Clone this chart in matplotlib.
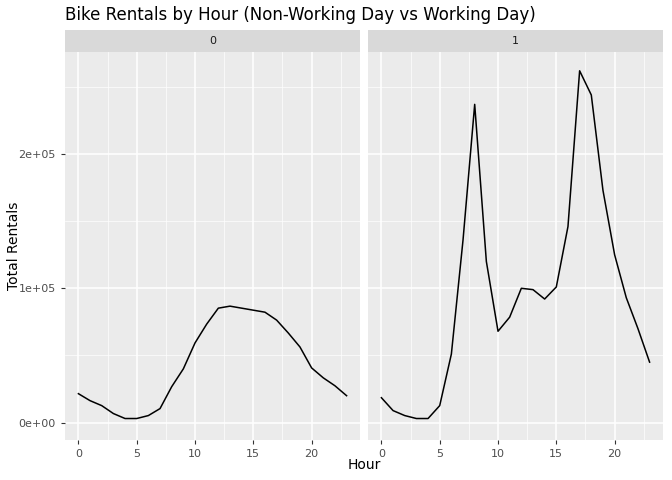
import matplotlib.pyplot as plt
import numpy as np

hours = list(range(24))
rentals_0 = [21500, 16300, 12600, 6700, 3000, 3000, 5200, 10400, 26700, 40000, 59300, 73300,
             85200, 86700, 85200, 83700, 82200, 76300, 66700, 56300, 40700, 33300, 27400, 20000]
rentals_1 = [18500, 8900, 5200, 3000, 3000, 12600, 51000, 136000, 237000, 120000, 68000, 78500,
             100000, 99000, 92000, 101000, 146000, 262000, 244000, 173000, 125000, 93000, 70000, 45000]
panels = [("0", rentals_0), ("1", rentals_1)]

fig = plt.figure(figsize=(6.72, 4.8), dpi=100)
W, H = 672, 480
left0, right0, left1, right1 = 65, 360, 368, 663
top, bottom, strip_top = 52, 440, 30

ymin, ymax = -13000, 276000
axes = []
for i, (lab, vals) in enumerate(panels):
    l, r = (left0, right0) if i == 0 else (left1, right1)
    ax = fig.add_axes([l / W, 1 - bottom / H, (r - l) / W, (bottom - top) / H])
    ax.set_facecolor('#EBEBEB')
    ax.set_xlim(-1.15, 24.15)
    ax.set_ylim(ymin, ymax)
    ax.set_xticks([0, 5, 10, 15, 20])
    ax.set_xticks([2.5, 7.5, 12.5, 17.5, 22.5], minor=True)
    ax.set_yticks([0, 100000, 200000])
    ax.set_yticks([50000, 150000, 250000], minor=True)
    ax.grid(True, which='major', color='white', lw=1.1)
    ax.grid(True, which='minor', color='white', lw=0.5)
    ax.set_axisbelow(True)
    for s in ax.spines.values():
        s.set_visible(False)
    ax.tick_params(which='major', length=3, color='#333333', labelsize=8, labelcolor='#4D4D4D')
    ax.tick_params(which='minor', length=0)
    ax.plot(hours, vals, color='black', lw=1.1)
    if i == 0:
        ax.set_yticklabels(['0e+00', '1e+05', '2e+05'])
    else:
        ax.tick_params(axis='y', which='both', left=False, labelleft=False)
    sax = fig.add_axes([l / W, 1 - top / H, (r - l) / W, (top - strip_top) / H])
    sax.set_facecolor('#D9D9D9')
    sax.set_xticks([]); sax.set_yticks([])
    for s in sax.spines.values():
        s.set_visible(False)
    sax.text(0.5, 0.5, lab, ha='center', va='center', fontsize=8, color='#1A1A1A')
    axes.append(ax)

fig.text(65 / W, 1 - 15 / H, "Bike Rentals by Hour (Non-Working Day vs Working Day)",
         fontsize=12, va='center', ha='left')
fig.text((left0 + right1) / 2 / W, 1 - 465 / H, "Hour", fontsize=10, ha='center', va='center')
fig.text(14 / W, 1 - (top + bottom) / 2 / H, "Total Rentals", fontsize=10, rotation=90,
         ha='center', va='center')
fig.savefig('out.png', dpi=100)
